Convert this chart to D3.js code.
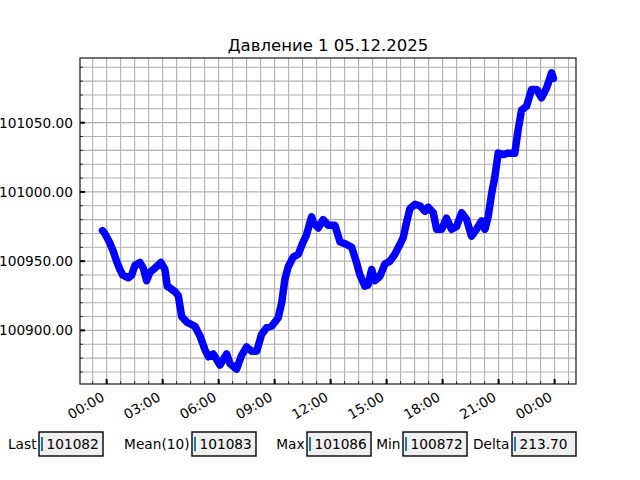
<!DOCTYPE html>
<html>
<head>
<meta charset="utf-8">
<script src="https://cdn.jsdelivr.net/npm/d3@7"></script>
<style>
  body { margin: 0; background: #fff; }
  text { font-family: "DejaVu Sans", sans-serif; fill: #000; }
</style>
</head>
<body>
<script>
// chart title
var title = "Давление 1 05.12.2025";

// hours from 00:00 of 05.12.2025 and pressure readings (Pa)
var hours = [-0.22, -0.1, 0.14, 0.36, 0.53, 0.71, 0.86, 1.16, 1.34, 1.52, 1.78, 1.96, 2.14, 2.32,
  2.59, 2.91, 3.12, 3.25, 3.66, 3.84, 4.02, 4.29, 4.73, 5.0, 5.27, 5.45, 5.71, 6.07, 6.43, 6.61,
  6.96, 7.23, 7.5, 7.77, 8.04, 8.3, 8.57, 8.84, 9.19, 9.38, 9.55, 9.73, 10.0, 10.27, 10.5, 10.71,
  10.98, 11.07, 11.34, 11.6, 11.87, 12.23, 12.5, 12.86, 13.13, 13.39, 13.57, 13.84, 14.01, 14.2,
  14.37, 14.64, 14.91, 15.18, 15.44, 15.71, 15.89, 16.07, 16.25, 16.52, 16.78, 17.05, 17.23, 17.5,
  17.68, 17.95, 18.21, 18.48, 18.75, 19.02, 19.29, 19.55, 19.82, 20.09, 20.27, 20.44, 20.63, 20.8,
  20.98, 21.25, 21.51, 21.87, 22.05, 22.23, 22.5, 22.77, 23.04, 23.3, 23.57, 23.84, 23.94];
var pressure = [100972, 100970, 100964, 100957, 100950, 100944, 100940, 100938, 100940, 100947,
  100949, 100945, 100936, 100942, 100945, 100949, 100944, 100932, 100928, 100925, 100910, 100906,
  100903, 100896, 100886, 100881, 100883, 100875, 100883, 100876, 100872, 100882, 100888, 100885,
  100885, 100897, 100902, 100903, 100909, 100920, 100937, 100946, 100953, 100955, 100963, 100969,
  100982, 100978, 100974, 100980, 100976, 100976, 100964, 100962, 100960, 100949, 100940, 100932,
  100933, 100944, 100936, 100939, 100948, 100950, 100955, 100962, 100967, 100978, 100988, 100991,
  100990, 100986, 100989, 100985, 100973, 100973, 100981, 100973, 100975, 100985, 100980, 100968,
  100973, 100979, 100973, 100982, 100999, 101011, 101028, 101027, 101028, 101028, 101045, 101059,
  101062, 101074, 101074, 101068, 101075, 101086, 101082];

// axis ticks
var xTickHours = [0, 3, 6, 9, 12, 15, 18, 21, 24];
var xTickLabels = ["00:00", "03:00", "06:00", "09:00", "12:00", "15:00", "18:00", "21:00", "00:00"];
var yTicks = [100900, 100950, 101000, 101050];

// statistics boxes under the chart
var statLabels = ["Last", "Mean(10)", "Max", "Min", "Delta"];
var statValues = ["101082", "101083", "101086", "100872", "213.70"];

var W = 640, H = 480;
var pLeft = 80, pRight = 576, pTop = 58, pBottom = 384;

var svg = d3.select("body").append("svg")
  .attr("width", W).attr("height", H);

// matplotlib style 5% margins
function padded(ext) {
  var d = (ext[1] - ext[0]) * 0.05;
  return [ext[0] - d, ext[1] + d];
}

var x = d3.scaleLinear().domain(padded(d3.extent(hours))).range([pLeft, pRight]);
var y = d3.scaleLinear().domain(padded(d3.extent(pressure))).range([pBottom, pTop]);

// minor ticks: 4 per major step on x, 5 on y
var xMinor = [];
for (var h = xTickHours[0] - 3; h <= x.domain()[1]; h += 0.75) {
  if (h >= x.domain()[0]) xMinor.push(h);
}
var yMinor = [];
for (var v = yTicks[0] - 50; v <= y.domain()[1]; v += 10) {
  if (v >= y.domain()[0]) yMinor.push(v);
}

var grid = svg.append("g").attr("class", "grid");
grid.selectAll("line.gx").data(xMinor).enter().append("line")
  .attr("x1", function(d) { return x(d); }).attr("x2", function(d) { return x(d); })
  .attr("y1", pTop).attr("y2", pBottom)
  .attr("stroke", "#b0b0b0").attr("stroke-width", 1.1);
grid.selectAll("line.gy").data(yMinor).enter().append("line")
  .attr("y1", function(d) { return y(d); }).attr("y2", function(d) { return y(d); })
  .attr("x1", pLeft).attr("x2", pRight)
  .attr("stroke", "#b0b0b0").attr("stroke-width", 1.1);

// the pressure line
var line = d3.line()
  .x(function(d, i) { return x(hours[i]); })
  .y(function(d) { return y(d); });
svg.append("path")
  .datum(pressure)
  .attr("d", line)
  .attr("fill", "none")
  .attr("stroke", "#0000ff")
  .attr("stroke-width", 7.5)
  .attr("stroke-linejoin", "round")
  .attr("stroke-linecap", "round");

// ticks pointing inward
var ticks = svg.append("g");
ticks.selectAll("line.mx").data(xMinor).enter().append("line")
  .attr("x1", function(d) { return x(d); }).attr("x2", function(d) { return x(d); })
  .attr("y1", pBottom).attr("y2", pBottom - 2.8)
  .attr("stroke", "#000").attr("stroke-width", 0.8);
ticks.selectAll("line.my").data(yMinor).enter().append("line")
  .attr("y1", function(d) { return y(d); }).attr("y2", function(d) { return y(d); })
  .attr("x1", pLeft).attr("x2", pLeft + 2.8)
  .attr("stroke", "#000").attr("stroke-width", 0.8);
ticks.selectAll("line.Mx").data(xTickHours).enter().append("line")
  .attr("x1", function(d) { return x(d); }).attr("x2", function(d) { return x(d); })
  .attr("y1", pBottom).attr("y2", pBottom - 5)
  .attr("stroke", "#000").attr("stroke-width", 2);
ticks.selectAll("line.My").data(yTicks).enter().append("line")
  .attr("y1", function(d) { return y(d); }).attr("y2", function(d) { return y(d); })
  .attr("x1", pLeft).attr("x2", pLeft + 5)
  .attr("stroke", "#000").attr("stroke-width", 2);

// frame
svg.append("rect")
  .attr("x", pLeft).attr("y", pTop)
  .attr("width", pRight - pLeft).attr("height", pBottom - pTop)
  .attr("fill", "none").attr("stroke", "#000").attr("stroke-width", 1.1);

// tick labels
svg.selectAll("text.yl").data(yTicks).enter().append("text")
  .attr("x", pLeft - 7).attr("y", function(d) { return y(d); })
  .attr("dy", "0.36em")
  .attr("text-anchor", "end")
  .style("font-size", "13.7px")
  .text(function(d) { return d3.format(".2f")(d); });

svg.selectAll("text.xl").data(xTickHours).enter().append("text")
  .attr("transform", function(d) { return "translate(" + (x(d) - 7.5) + "," + (pBottom + 5) + ") rotate(-30)"; })
  .attr("dy", "0.92em")
  .attr("text-anchor", "end")
  .style("font-size", "13.7px")
  .text(function(d, i) { return xTickLabels[i]; });

// title
svg.append("text")
  .attr("x", (pLeft + pRight) / 2).attr("y", 51)
  .attr("text-anchor", "middle")
  .style("font-size", "16.5px")
  .text(title);

// stat boxes
var boxLeft = [39, 192, 307, 403, 512];
var boxW = 64, boxTop = 432, boxH = 24;
var boxes = svg.selectAll("g.stat").data(statLabels).enter().append("g");
boxes.append("text")
  .attr("x", function(d, i) { return boxLeft[i] - 2.5; })
  .attr("y", boxTop + boxH / 2).attr("dy", "0.36em")
  .attr("text-anchor", "end")
  .style("font-size", "13.7px")
  .text(function(d) { return d; });
boxes.append("rect")
  .attr("x", function(d, i) { return boxLeft[i]; })
  .attr("y", boxTop).attr("width", boxW).attr("height", boxH)
  .attr("fill", "#f0f0f0").attr("stroke", "#000").attr("stroke-width", 1.4);
boxes.append("line")
  .attr("x1", function(d, i) { return boxLeft[i] + 3; })
  .attr("x2", function(d, i) { return boxLeft[i] + 3; })
  .attr("y1", boxTop + 5).attr("y2", boxTop + boxH - 5)
  .attr("stroke", "#1f77b4").attr("stroke-width", 2);
boxes.append("text")
  .attr("x", function(d, i) { return boxLeft[i] + 7.5; })
  .attr("y", boxTop + boxH / 2).attr("dy", "0.36em")
  .style("font-size", "13.7px")
  .text(function(d, i) { return statValues[i]; });
</script>
</body>
</html>
